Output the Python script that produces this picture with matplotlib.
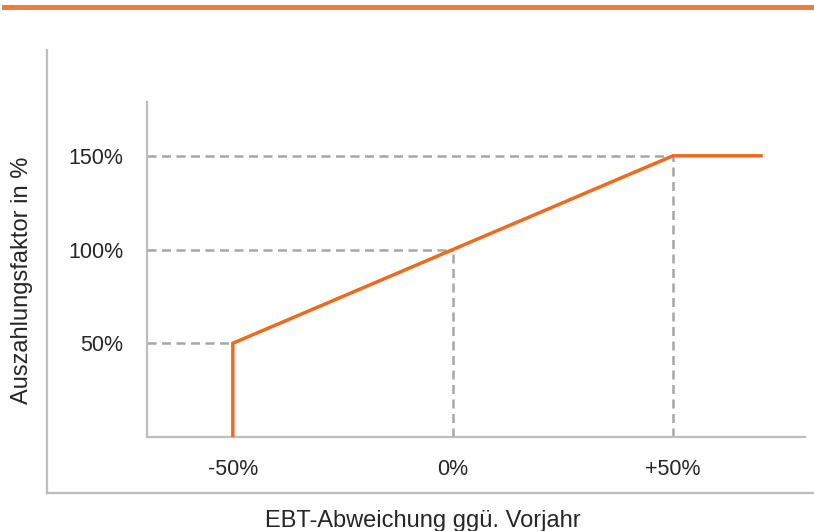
"""Auszahlungsfaktor in Abhaengigkeit der EBT-Abweichung."""

import matplotlib

matplotlib.use("Agg")

import matplotlib.pyplot as plt
from matplotlib.lines import Line2D

plt.rcParams["font.family"] = ["Liberation Sans", "DejaVu Sans"]

# payout curve
ebt_dev = [-50, -50, 50, 70]
payout = [0, 50, 150, 150]

# guide points with dashed helper lines
guide_x = [-50, 0, 50]
guide_y = [50, 100, 150]
guide_down = [False, True, True]

x_ticks = [-50, 0, 50]
x_labels = ["-50%", "0%", "+50%"]
y_ticks = [50, 100, 150]
y_labels = ["50%", "100%", "150%"]

ORANGE = "#EE6A1F"
SPINE = "#BDBDBD"
DASH = "#A6A6A6"
W, H = 814, 531

fig = plt.figure(figsize=(W / 100, H / 100), dpi=100)

# orange rule at the top
fig.add_artist(Line2D([4 / W, 1], [1 - 7 / H, 1 - 7 / H], color="#F47C2C", linewidth=3.6))

# outer frame (left + bottom)
frame = fig.add_axes([47 / W, 1 - 493 / H, 1 - 47 / W, (493 - 50) / H])
frame.set_xticks([])
frame.set_yticks([])
frame.patch.set_alpha(0)
for side in ("top", "right"):
    frame.spines[side].set_visible(False)
for side in ("left", "bottom"):
    frame.spines[side].set_color(SPINE)
    frame.spines[side].set_linewidth(1.6)

ax = fig.add_axes([147 / W, 1 - 437 / H, (805 - 147) / W, (437 - 102) / H])
ax.patch.set_alpha(0)
x_min, x_max = -69.5, 80
y_min, y_max = 0, 178.7
ax.set_xlim(x_min, x_max)
ax.set_ylim(y_min, y_max)

for gx, gy, down in zip(guide_x, guide_y, guide_down):
    ax.plot([x_min, gx], [gy, gy], color=DASH, linewidth=1.8, dashes=(3.6, 2.2), zorder=1)
    if down:
        ax.plot([gx, gx], [y_min, gy], color=DASH, linewidth=1.8, dashes=(3.6, 2.2), zorder=1)

ax.plot(ebt_dev, payout, color=ORANGE, linewidth=2.5, solid_joinstyle="miter", zorder=3)

for side in ("top", "right"):
    ax.spines[side].set_visible(False)
for side in ("left", "bottom"):
    ax.spines[side].set_color(SPINE)
    ax.spines[side].set_linewidth(1.6)

ax.set_xticks(x_ticks)
ax.set_xticklabels(x_labels)
ax.set_yticks(y_ticks)
ax.set_yticklabels(y_labels)
ax.tick_params(length=0, labelsize=15.5, colors="#262626")
ax.tick_params(axis="x", pad=16)
ax.tick_params(axis="y", pad=17)

fig.text(22 / W, 1 - 280 / H, "Auszahlungsfaktor in %", rotation=90,
         ha="center", va="center", fontsize=17, color="#262626")
fig.text(423 / W, 1 - 521 / H, "EBT-Abweichung ggü. Vorjahr",
         ha="center", va="center", fontsize=17, color="#262626")

fig.savefig("out.png", dpi=100)
plt.close(fig)
